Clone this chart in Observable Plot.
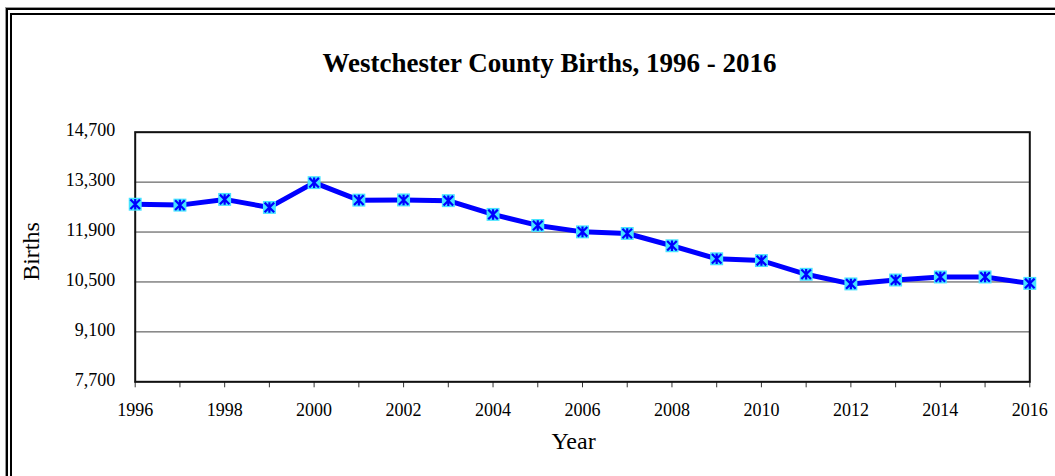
<!DOCTYPE html>
<html>
<head>
<meta charset="utf-8">
<script src="https://cdn.jsdelivr.net/npm/d3@7"></script>
<script src="https://cdn.jsdelivr.net/npm/@observablehq/plot@0.6"></script>
<style>
  html, body { margin: 0; padding: 0; background: #fff; }
  #wrap { position: relative; width: 1055px; height: 476px; overflow: hidden; background: #fff; }
  .bd { position: absolute; }
  #chart { position: absolute; left: 0; top: 0; }
</style>
</head>
<body>
<div id="wrap">
  <div class="bd" style="left:5px; top:7px; width:1200px; height:1px; background:#999;"></div>
  <div class="bd" style="left:5px; top:7px; width:1px; height:600px; background:#999;"></div>
  <div class="bd" style="left:6px; top:8px; width:1200px; height:2px; background:#000;"></div>
  <div class="bd" style="left:6px; top:8px; width:2px; height:600px; background:#000;"></div>
  <div class="bd" style="left:10px; top:13px; width:1200px; height:2px; background:#000;"></div>
  <div class="bd" style="left:10px; top:13px; width:2px; height:600px; background:#000;"></div>
  <div id="chart"></div>
</div>
<script>
const title = "Westchester County Births, 1996 - 2016";
const xLabel = "Year";
const yLabel = "Births";
const years = [1996, 1997, 1998, 1999, 2000, 2001, 2002, 2003, 2004, 2005, 2006,
               2007, 2008, 2009, 2010, 2011, 2012, 2013, 2014, 2015, 2016];
const births = [12680, 12655, 12815, 12590, 13285, 12795, 12800, 12780, 12395, 12085, 11905,
                11860, 11515, 11150, 11100, 10715, 10445, 10555, 10640, 10640, 10460];
const yTicks = [7700, 9100, 10500, 11900, 13300, 14700];
const xLabelTicks = [1996, 1998, 2000, 2002, 2004, 2006, 2008, 2010, 2012, 2014, 2016];

const data = years.map((y, i) => ({year: y, births: births[i]}));

const star = {
  draw(context, size) {
    const r = Math.sqrt(size) * 0.5;
    context.moveTo(-r, -r); context.lineTo(r, r);
    context.moveTo(r, -r); context.lineTo(-r, r);
    context.moveTo(0, -r * 1.1); context.lineTo(0, r * 1.1);
  }
};

const chart = Plot.plot({
  width: 1055,
  height: 476,
  marginLeft: 134.7,
  marginRight: 25.7,
  marginTop: 131.7,
  marginBottom: 94.7,
  style: {background: "transparent", fontFamily: "'Liberation Serif', serif", fontSize: "18px", color: "#000", overflow: "visible"},
  x: {domain: [1996, 2016]},
  y: {domain: [7700, 14700]},
  marks: [
    Plot.ruleY(yTicks, {stroke: "#444", strokeWidth: 1}),
    Plot.axisY({ticks: yTicks, tickSize: 0, tickPadding: 20, tickFormat: d3.format(","), dy: -2, label: null, fontSize: 18, fill: "#000"}),
    Plot.axisX({ticks: years, tickSize: 6, tickFormat: () => "", label: null, stroke: "#333"}),
    Plot.axisX({ticks: xLabelTicks, tickSize: 0, tickPadding: 21, tickFormat: "d", label: null, fontSize: 18, fill: "#000"}),
    Plot.frame({stroke: "#111", strokeWidth: 2}),
    Plot.line(data, {x: "year", y: "births", stroke: "#0000ff", strokeWidth: 5, strokeLinejoin: "round"}),
    Plot.dot(data, {x: "year", y: "births", symbol: "square", r: 7.3, fill: "#45e3ff", stroke: "none"}),
    Plot.dot(data, {x: "year", y: "births", symbol: star, r: 5.4, stroke: "#0000ff", strokeWidth: 2.2}),
    Plot.text([title], {frameAnchor: "top", lineAnchor: "middle", textAnchor: "middle", dx: -33, dy: -69.3, fontSize: 27, fontWeight: "bold", fill: "#000"}),
    Plot.text([xLabel], {frameAnchor: "bottom", lineAnchor: "middle", textAnchor: "middle", dx: -9, dy: 60, fontSize: 24, fill: "#000"}),
    Plot.text([yLabel], {frameAnchor: "left", lineAnchor: "middle", textAnchor: "middle", dx: -104, dy: -5.5, rotate: -90, fontSize: 24, fill: "#000"})
  ]
});
document.getElementById("chart").appendChild(chart);
</script>
</body>
</html>
